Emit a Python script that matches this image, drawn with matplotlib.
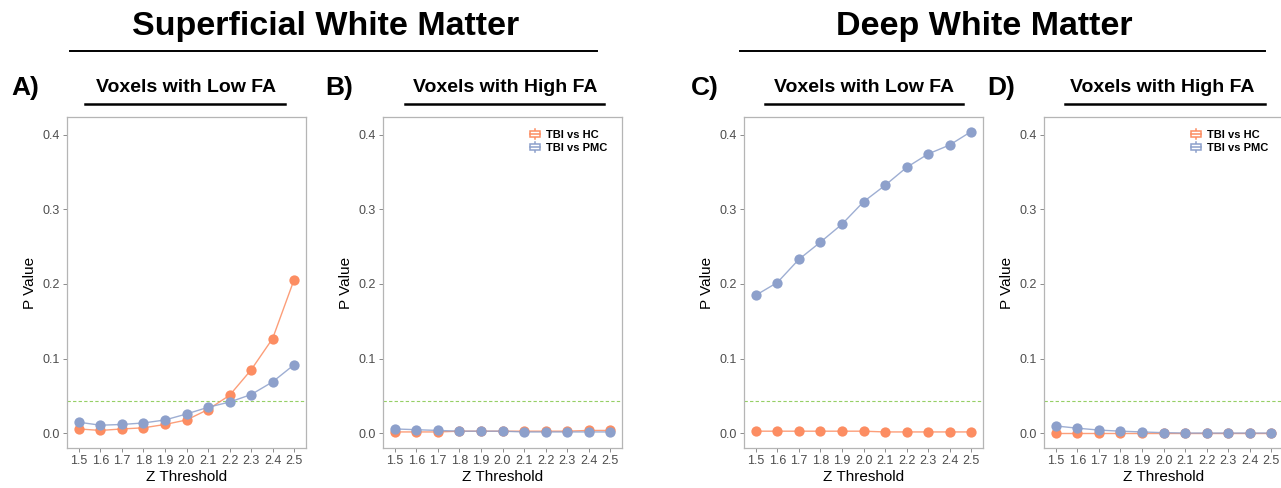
import matplotlib
matplotlib.use("Agg")
import matplotlib.pyplot as plt
from matplotlib.legend_handler import HandlerBase
from matplotlib.lines import Line2D
from matplotlib.patches import Rectangle

plt.rcParams["font.family"] = ["Liberation Sans", "DejaVu Sans"]

# ---- data ----
z_threshold = [1.5, 1.6, 1.7, 1.8, 1.9, 2.0, 2.1, 2.2, 2.3, 2.4, 2.5]
z_labels = ["1.5", "1.6", "1.7", "1.8", "1.9", "2.0", "2.1", "2.2", "2.3", "2.4", "2.5"]

swm_low_hc = [0.006, 0.004, 0.006, 0.0075, 0.012, 0.018, 0.032, 0.051, 0.085, 0.127, 0.206]
swm_low_pmc = [0.015, 0.011, 0.012, 0.014, 0.018, 0.026, 0.035, 0.042, 0.052, 0.069, 0.092]
swm_high_hc = [0.002, 0.002, 0.002, 0.003, 0.003, 0.003, 0.003, 0.003, 0.003, 0.004, 0.004]
swm_high_pmc = [0.006, 0.005, 0.004, 0.003, 0.003, 0.003, 0.002, 0.002, 0.002, 0.002, 0.002]
dwm_low_hc = [0.003, 0.003, 0.003, 0.003, 0.003, 0.003, 0.002, 0.002, 0.002, 0.002, 0.002]
dwm_low_pmc = [0.185, 0.202, 0.233, 0.256, 0.280, 0.310, 0.332, 0.356, 0.374, 0.386, 0.404]
dwm_high_hc = [0.0, 0.0, 0.0, 0.0, 0.0, 0.0, 0.0, 0.0, 0.0, 0.0, 0.0]
dwm_high_pmc = [0.010, 0.007, 0.0045, 0.003, 0.002, 0.001, 0.0005, 0.0005, 0.0005, 0.0005, 0.0005]

p_cutoff = [0.044, 0.043, 0.043, 0.043]
panel_letters = ["A)", "B)", "C)", "D)"]
panel_titles = ["Voxels with Low FA", "Voxels with High FA", "Voxels with Low FA", "Voxels with High FA"]
group_titles = ["Superficial White Matter", "Deep White Matter"]
series_names = ["TBI vs HC", "TBI vs PMC"]

HC_COLOR = "#FC8D62"
PMC_COLOR = "#8DA0CB"
CUT_COLOR = "#7CC440"
GREY = "#4D4D4D"

W, H = 1281, 488


class BoxKeyHandler(HandlerBase):
    """ggplot-like boxplot legend key."""

    def create_artists(self, legend, orig_handle, xdescent, ydescent, width, height, fontsize, trans):
        c = orig_handle.get_color()
        cx = -xdescent + width / 2
        bw = width * 0.85
        bh = height * 0.7
        y0 = -ydescent + (height - bh) / 2
        box = Rectangle((cx - bw / 2, y0), bw, bh, facecolor="white", edgecolor=c, lw=1.1, transform=trans)
        med = Line2D([cx - bw / 2, cx + bw / 2], [y0 + bh / 2] * 2, color=c, lw=1.1, transform=trans)
        whisk = Line2D([cx, cx], [-ydescent - height * 0.15, -ydescent + height * 1.15], color=c, lw=1.1, transform=trans)
        return [whisk, box, med]


def px_box(left, right, top=117, bottom=448):
    return [left / W, (H - bottom) / H, (right - left) / W, (bottom - top) / H]


def draw_panel(ax, hc, pmc, cutoff, show_legend):
    ax.axhline(cutoff, color=CUT_COLOR, linestyle=(0, (3, 2)), linewidth=0.8, alpha=0.8, zorder=1)
    ax.plot(z_threshold, hc, color=HC_COLOR, linewidth=1.0, alpha=0.85, zorder=2)
    ax.plot(z_threshold, pmc, color=PMC_COLOR, linewidth=1.0, alpha=0.85, zorder=2)
    ax.plot(z_threshold, hc, "o", color=HC_COLOR, markersize=7.4, markeredgewidth=0, zorder=3)
    ax.plot(z_threshold, pmc, "o", color=PMC_COLOR, markersize=7.4, markeredgewidth=0, zorder=3)
    ax.set_xlim(1.445, 2.555)
    ax.set_ylim(-0.0195, 0.4235)
    ax.set_xticks(z_threshold)
    ax.set_xticklabels(z_labels)
    ax.set_yticks([0.0, 0.1, 0.2, 0.3, 0.4])
    ax.set_yticklabels(["0.0", "0.1", "0.2", "0.3", "0.4"])
    ax.tick_params(colors="#8C8C8C", labelcolor=GREY, labelsize=9, length=3, width=0.7, pad=2)
    for s in ax.spines.values():
        s.set_color("#B5B5B5")
        s.set_linewidth(0.9)
    ax.set_xlabel("Z Threshold", fontsize=11, labelpad=2)
    ax.set_ylabel("P Value", fontsize=11, labelpad=4)
    if show_legend:
        handles = [Line2D([], [], color=HC_COLOR), Line2D([], [], color=PMC_COLOR)]
        ax.legend(handles, series_names, loc="upper right", bbox_to_anchor=(0.955, 0.975),
                  frameon=False, handler_map={Line2D: BoxKeyHandler()},
                  prop={"weight": "bold", "size": 8}, handlelength=1.1, handletextpad=0.4,
                  labelspacing=0.3, borderaxespad=0)


fig = plt.figure(figsize=(W / 100, H / 100), dpi=100)

panel_left = [67, 383, 744, 1044]
panel_data = [
    (swm_low_hc, swm_low_pmc),
    (swm_high_hc, swm_high_pmc),
    (dwm_low_hc, dwm_low_pmc),
    (dwm_high_hc, dwm_high_pmc),
]
for i, left in enumerate(panel_left):
    ax = fig.add_axes(px_box(left, left + 239))
    draw_panel(ax, panel_data[i][0], panel_data[i][1], p_cutoff[i], show_legend=i in (1, 3))

# panel letters and subtitles with underlines
letter_x = [11, 325, 691, 987]
title_cx = [186, 505, 864, 1162]
uline = [(85, 285), (405, 604), (765, 963), (1065, 1265)]
for i in range(4):
    fig.text(letter_x[i] / W, 1 - 88 / H, panel_letters[i], ha="left", va="center",
             fontsize=19, fontweight="bold")
    fig.text(title_cx[i] / W, 1 - 88 / H, panel_titles[i], ha="center", va="center",
             fontsize=14, fontweight="bold")
    fig.add_artist(Line2D([uline[i][0] / W, uline[i][1] / W], [1 - 103.5 / H] * 2,
                          color="black", linewidth=1.8, transform=fig.transFigure))

# group titles with underlines
group_cx = [326, 984]
group_line = [(70, 597), (740, 1265)]
for i in range(2):
    fig.text(group_cx[i] / W, 1 - 27 / H, group_titles[i], ha="center", va="center",
             fontsize=24.5, fontweight="bold")
    fig.add_artist(Line2D([group_line[i][0] / W, group_line[i][1] / W], [1 - 50.5 / H] * 2,
                          color="black", linewidth=1.4, transform=fig.transFigure))

fig.savefig("out.png", dpi=100)
